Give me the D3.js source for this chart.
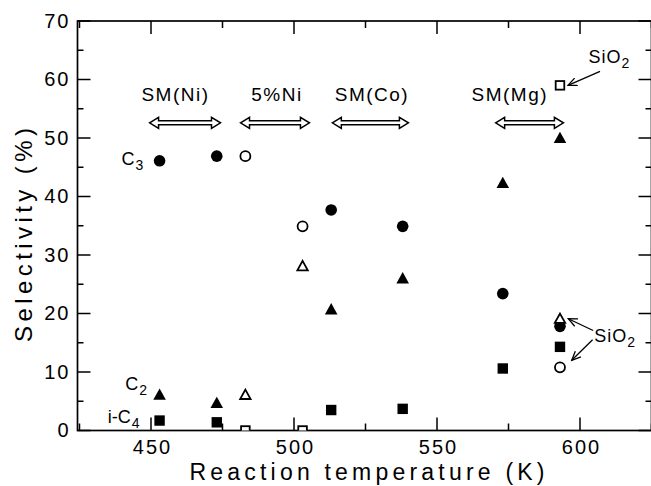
<!DOCTYPE html>
<html><head><meta charset="utf-8">
<script src="https://cdn.jsdelivr.net/npm/d3@7/dist/d3.min.js"></script>
<style>
html,body{margin:0;padding:0;background:#fff;}
svg{display:block;font-family:"Liberation Sans",Arial,Helvetica,sans-serif;}
</style></head>
<body>
<svg id="chart" width="651" height="486"></svg>
<script>
// ---- data ----
const tempsSM = [453, 473, 513, 538, 573, 593];          // SM catalysts (filled)
const c3SM   = [46.1, 46.9, 37.7, 34.9, 23.4, 17.8];
const c2SM   = [6.1, 4.7, 20.7, 26.0, 42.3, 50.0];
const ic4SM  = [1.7, 1.4, 3.5, 3.7, 10.6, 14.3];
const tempsOpen = [483, 503, 593];                        // 5%Ni and SiO2 (open)
const c3Open  = [46.9, 34.9, 10.8];
const c2Open  = [6.1, 28.1, 19.1];
const ic4Open = [0, 0, 59.0];
const xTicks = [450, 500, 550, 600];
const yTicks = [0, 10, 20, 30, 40, 50, 60, 70];
const catalystLabels = ["SM(Ni)", "5%Ni", "SM(Co)", "SM(Mg)"];
const catalystLabelX = [458.2, 493.7, 526.9, 575.1];
const catalystStart  = [449.5, 481.3, 513.4, 570.5];
const catalystEnd    = [474.3, 505.4, 540.0, 594.2];

// ---- layout ----
const svg = d3.select("#chart");
const X0 = 424.3, X1 = 625;
const x = d3.scaleLinear().domain([X0, X1]).range([77.5, 651.5]);
const y = d3.scaleLinear().domain([0, 70]).range([430.5, 21]);
const FONT = "'Liberation Sans',Arial,Helvetica,sans-serif";

const defs = svg.append("defs");
defs.append("clipPath").attr("id","plotclip")
  .append("rect").attr("x",x(X0)).attr("y",y(70)).attr("width",x(X1)-x(X0)).attr("height",y(0)-y(70));
defs.append("marker").attr("id","vhead").attr("viewBox","0 0 10 10")
  .attr("refX",9).attr("refY",5).attr("markerWidth",10).attr("markerHeight",10)
  .attr("markerUnits","userSpaceOnUse").attr("orient","auto")
  .append("path").attr("d","M0,1 L9,5 L0,9").attr("fill","none").attr("stroke","#000").attr("stroke-width",1.3);

// frame
svg.append("rect").attr("x",x(X0)).attr("y",y(70)).attr("width",x(X1)-x(X0)).attr("height",y(0)-y(70))
  .attr("fill","none").attr("stroke","#000").attr("stroke-width",1.7);

// ticks (inward on all four sides)
const xMinor = d3.range(425, 626, 25);
const yMinor = d3.range(0, 71, 5);
const tk = svg.append("g").attr("stroke","#000").attr("stroke-width",1.5);
xMinor.forEach(v => {
  const L = (v % 50 === 0) ? 13 : 7;
  tk.append("line").attr("x1",x(v)).attr("x2",x(v)).attr("y1",y(0)).attr("y2",y(0)-L);
  tk.append("line").attr("x1",x(v)).attr("x2",x(v)).attr("y1",y(70)).attr("y2",y(70)+L);
});
yMinor.forEach(v => {
  const L = (v % 10 === 0) ? 13 : 6;
  tk.append("line").attr("y1",y(v)).attr("y2",y(v)).attr("x1",x(X0)).attr("x2",x(X0)+L);
  tk.append("line").attr("y1",y(v)).attr("y2",y(v)).attr("x1",x(X1)).attr("x2",x(X1)-L);
});

// tick labels via d3 axes (lines hidden)
const xAxis = svg.append("g").attr("transform",`translate(0,${y(0)})`)
  .call(d3.axisBottom(x).tickValues(xTicks).tickSize(0).tickPadding(9));
const yAxis = svg.append("g").attr("transform",`translate(${x(X0)},0)`)
  .call(d3.axisLeft(y).tickValues(yTicks).tickSize(0).tickPadding(7));
[xAxis, yAxis].forEach(g => {
  g.select(".domain").remove();
  g.selectAll("text").attr("font-family",FONT).attr("font-size",20).attr("fill","#000")
    .attr("letter-spacing","2px");
});
xAxis.selectAll("text").attr("dx","1px");

// axis titles
svg.append("text").attr("x",367).attr("y",480).attr("text-anchor","middle")
  .attr("font-family",FONT).attr("font-size",23).attr("textLength",355).attr("lengthAdjust","spacing")
  .text("Reaction temperature (K)");
svg.append("text").attr("transform","translate(32,235) rotate(-90)").attr("text-anchor","middle")
  .attr("font-family",FONT).attr("font-size",24).attr("textLength",214).attr("lengthAdjust","spacing")
  .text("Selectivity (%)");

// catalyst range arrows
const ann = svg.append("g");
catalystLabels.forEach((lab, i) => {
  const x0 = x(catalystStart[i]), x1 = x(catalystEnd[i]), yc = y(52.6);
  const h = 9, hh = 5.5, sh = 2;
  const pts = [[x0,yc],[x0+h,yc-hh],[x0+h,yc-sh],[x1-h,yc-sh],[x1-h,yc-hh],[x1,yc],
               [x1-h,yc+hh],[x1-h,yc+sh],[x0+h,yc+sh],[x0+h,yc+hh]];
  ann.append("path").attr("d","M"+pts.map(p=>p.join(",")).join("L")+"Z")
    .attr("fill","#fff").attr("stroke","#000").attr("stroke-width",1.5);
  ann.append("text").attr("x",x(catalystLabelX[i])+1).attr("y",y(56.4)).attr("text-anchor","middle")
    .attr("font-family",FONT).attr("font-size",19).attr("letter-spacing","1.5px").text(lab);
});

// markers
const plot = svg.append("g").attr("clip-path","url(#plotclip)");
function circles(ts, vs, filled) {
  plot.selectAll(null).data(ts.map((t,i)=>[t,vs[i]])).enter().append("circle")
    .attr("cx",d=>x(d[0])).attr("cy",d=>y(d[1])).attr("r",filled?5.8:5)
    .attr("fill",filled?"#000":"#fff").attr("stroke","#000").attr("stroke-width",filled?0:1.8);
}
function triangles(ts, vs, filled) {
  const s = filled ? 6.3 : 5.2;
  plot.selectAll(null).data(ts.map((t,i)=>[t,vs[i]])).enter().append("path")
    .attr("d",d=>{const cx=x(d[0]), cy=y(d[1]);
      return `M${cx},${cy-s}L${cx+s},${cy+s*0.8}L${cx-s},${cy+s*0.8}Z`;})
    .attr("fill",filled?"#000":"#fff").attr("stroke","#000").attr("stroke-width",filled?0:1.8);
}
function squares(ts, vs, filled) {
  const s = filled ? 5.2 : 4.3;
  plot.selectAll(null).data(ts.map((t,i)=>[t,vs[i]])).enter().append("rect")
    .attr("x",(d)=>x(d[0])-s).attr("y",d=>y(d[1])-s).attr("width",2*s).attr("height",2*s)
    .attr("fill",filled?"#000":"#fff").attr("stroke","#000").attr("stroke-width",filled?0:1.8);
}
circles(tempsSM, c3SM, true);
circles(tempsOpen, c3Open, false);
triangles(tempsSM, c2SM, true);
triangles(tempsOpen, c2Open, false);
squares(tempsSM, ic4SM, true);
squares(tempsOpen, ic4Open, false);

// series labels
function subLabel(xe, yb, main, sub) {
  const t = svg.append("text").attr("x",xe).attr("y",yb).attr("text-anchor","end")
    .attr("font-family",FONT).attr("font-size",18);
  t.append("tspan").text(main);
  t.append("tspan").attr("font-size",14).attr("dy",5).attr("dx",1).text(sub);
}
subLabel(x(447.3), y(45.35), "C", "3");
subLabel(x(448.6), y(6.97), "C", "2");
subLabel(x(446.0), y(1.25), "i-C", "4");

// SiO2 annotations
function sio2(xl, yb) {
  const t = svg.append("text").attr("x",xl).attr("y",yb)
    .attr("font-family",FONT).attr("font-size",18).attr("letter-spacing","1px");
  t.append("tspan").text("SiO");
  t.append("tspan").attr("font-size",14).attr("dy",5).text("2");
}
sio2(x(603), y(62.9));
sio2(x(605), y(15.2));
function pointer(xa, ya, xb, yb) {
  svg.append("line").attr("x1",x(xa)).attr("y1",y(ya)).attr("x2",x(xb)).attr("y2",y(yb))
    .attr("stroke","#000").attr("stroke-width",1.3).attr("marker-end","url(#vhead)");
}
pointer(607.0, 61.4, 595.8, 59.0);
pointer(604.6, 17.1, 595.9, 19.1);
pointer(604.4, 15.5, 597.1, 12.0);
</script>
</body></html>
